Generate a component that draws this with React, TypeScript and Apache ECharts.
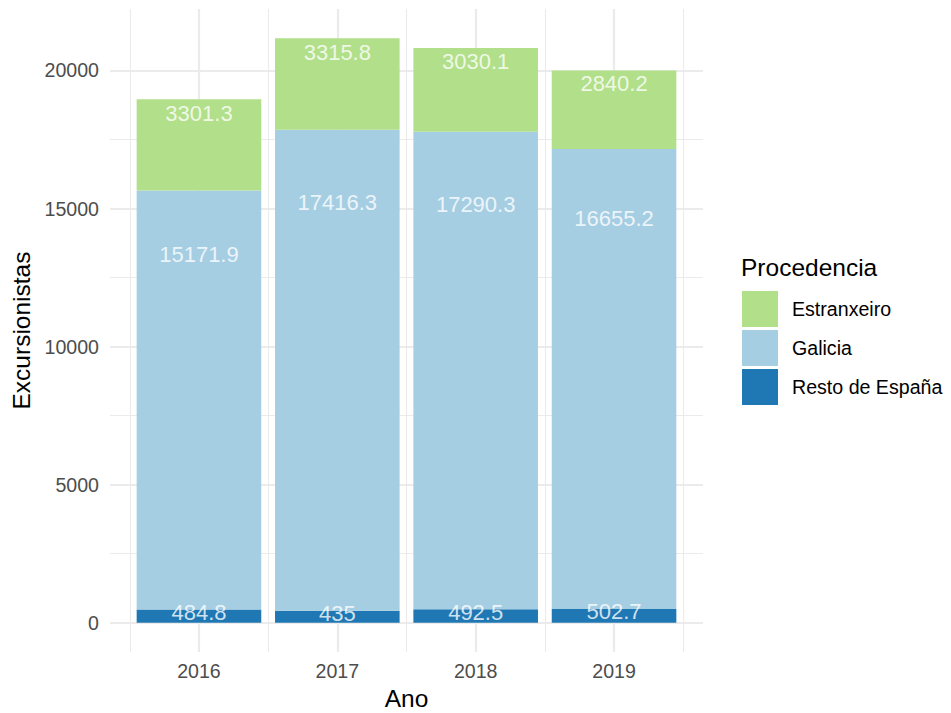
import React, { useEffect, useRef } from 'react';
import * as echarts from 'echarts';

// ---- data ----
const years = ['2016', '2017', '2018', '2019'];
const resto = [484.8, 435, 492.5, 502.7];
const galicia = [15171.9, 17416.3, 17290.3, 16655.2];
const estranxeiro = [3301.3, 3315.8, 3030.1, 2840.2];
const stackOrder = ['Resto de España', 'Galicia', 'Estranxeiro'];
const legendOrder = ['Estranxeiro', 'Galicia', 'Resto de España'];
const yMinorTicks = [2500, 7500, 12500, 17500];
const xMinorTicks = [0.5, 1.5, 2.5, 3.5, 4.5];

const colors: Record<string, string> = {
  'Estranxeiro': '#B2DF8A',
  'Galicia': '#A6CEE3',
  'Resto de España': '#1F78B4',
};

const FONT = "'Liberation Sans', Arial, Helvetica, sans-serif";

export default function App() {
  const ref = useRef<HTMLDivElement>(null);

  useEffect(() => {
    if (!ref.current) return;
    const chart = echarts.init(ref.current, undefined, { renderer: 'svg' });

    const groups: Record<string, number[]> = {
      'Resto de España': resto,
      'Galicia': galicia,
      'Estranxeiro': estranxeiro,
    };
    const totals = years.map((_, i) => resto[i] + galicia[i] + estranxeiro[i]);
    const maxTotal = Math.max(...totals);

    // label positions: position_stack(vjust ~0.85)
    const labelData: any[] = [];
    years.forEach((_, i) => {
      let cum = 0;
      stackOrder.forEach((name) => {
        const v = groups[name][i];
        cum += v;
        labelData.push([i + 1, cum - 0.15 * v, v]);
      });
    });

    // value first, position second, so that the value dimension is the stacked one
    const barSeries = stackOrder.map((name, si) => ({
      name,
      type: 'bar',
      stack: 'total',
      barWidth: 124.6,
      itemStyle: { color: colors[name] },
      encode: { x: 1, y: 0 },
      data: groups[name].map((v, i) => [v, i + 1]),
      z: 2,
      ...(si === 0
        ? {
            markLine: {
              z: 0,
              silent: true,
              symbol: 'none',
              label: { show: false },
              lineStyle: { color: '#EBEBEB', width: 1.1, type: 'solid' },
              data: [
                ...yMinorTicks.map((y) => ({ yAxis: y })),
                ...xMinorTicks.map((x) => ({ xAxis: x })),
              ],
            },
          }
        : {}),
    }));

    chart.setOption({
      animation: false,
      backgroundColor: '#ffffff',
      textStyle: { fontFamily: FONT },
      title: {
        text: 'Procedencia',
        left: 736,
        top: 250,
        textStyle: { fontFamily: FONT, fontSize: 24.5, fontWeight: 'normal', color: '#000000' },
      },
      legend: {
        data: legendOrder,
        orient: 'vertical',
        left: 742,
        top: 291,
        itemWidth: 36,
        itemHeight: 36,
        itemGap: 3,
        icon: 'rect',
        padding: 0,
        textStyle: { fontFamily: FONT, fontSize: 19.6, color: '#000000', padding: [2, 0, 0, 9] },
        selectedMode: false,
      },
      grid: { left: 110, right: 248, top: 9, bottom: 61, containLabel: false, outerBoundsMode: 'none' },
      xAxis: {
        type: 'value',
        min: 1 - 0.643,
        max: 4.643,
        splitNumber: 4,
        name: 'Ano',
        nameLocation: 'middle',
        nameGap: 31,
        nameTextStyle: { fontFamily: FONT, fontSize: 24.5, color: '#000000' },
        axisLine: { show: false },
        axisTick: { show: false },
        axisLabel: {
          fontFamily: FONT,
          fontSize: 19.6,
          color: '#4D4D4D',
          margin: 9,
          showMinLabel: false,
          showMaxLabel: false,
          formatter: (v: number) => {
            const r = Math.round(v);
            return Math.abs(v - r) < 1e-6 && r >= 1 && r <= years.length ? years[r - 1] : '';
          },
        },
        splitLine: {
          show: true,
          showMinLine: false,
          showMaxLine: false,
          lineStyle: { color: '#EBEBEB', width: 2.2 },
        },
      },
      yAxis: {
        type: 'value',
        min: -0.05 * maxTotal,
        max: 1.05 * maxTotal,
        splitNumber: 5,
        name: 'Excursionistas',
        nameLocation: 'middle',
        nameRotate: 90,
        nameGap: 76,
        nameTextStyle: { fontFamily: FONT, fontSize: 24.5, color: '#000000' },
        axisLine: { show: false },
        axisTick: { show: false },
        axisLabel: {
          fontFamily: FONT,
          fontSize: 19.6,
          color: '#4D4D4D',
          margin: 11,
          showMinLabel: false,
          showMaxLabel: false,
          formatter: (v: number) => (Math.abs(v % 5000) < 1e-6 ? String(v) : ''),
        },
        splitLine: {
          show: true,
          showMinLine: false,
          showMaxLine: false,
          lineStyle: { color: '#EBEBEB', width: 2.2 },
        },
      },
      series: [
        ...barSeries,
        {
          type: 'scatter',
          silent: true,
          symbolSize: 1,
          itemStyle: { color: 'rgba(0,0,0,0)' },
          z: 10,
          label: {
            show: true,
            position: 'inside',
            offset: [0, 1],
            color: '#ffffff',
            fontFamily: FONT,
            fontSize: 22,
            formatter: (p: any) => String(p.value[2]),
          },
          data: labelData,
        },
      ],
    });

    return () => chart.dispose();
  }, []);

  return <div ref={ref} style={{ width: 951, height: 713, position: 'absolute', left: 0, top: 0 }} />;
}
